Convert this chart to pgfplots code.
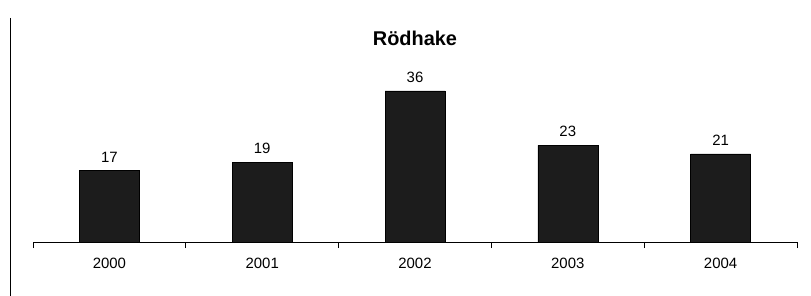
\documentclass[border=0pt]{standalone}
\usepackage{pgfplots}
\pgfplotsset{compat=1.18}
\usepackage{fontspec}
\setmainfont{Liberation Sans}
\definecolor{barc}{HTML}{1C1C1C}
\begin{document}
\begin{tikzpicture}
\useasboundingbox (-33bp,-54bp) rectangle (778bp,242bp);
\begin{axis}[
  at={(0,0)}, anchor=south west,
  scale only axis,
  width=764bp, height=168bp,
  xmin=-0.5, xmax=4.5, ymin=0, ymax=40,
  axis x line*=bottom, axis y line=none,
  x axis line style={line width=1pt,-},
  xtick={0,1,2,3,4},
  xticklabels={2000,2001,2002,2003,2004},
  major tick length=0pt,
  extra x ticks={-0.5,0.5,1.5,2.5,3.5,4.5},
  extra x tick labels={},
  extra x tick style={major tick length=6bp, tick align=outside, tick style={line width=0.8pt,black}},
  xticklabel style={font=\fontsize{15}{15}\selectfont, yshift=-13bp},
  /pgf/number format/assume math mode=true,
  ybar, bar width=60bp,
  nodes near coords,
  nodes near coords style={font=\fontsize{15}{15}\selectfont, yshift=5bp},
  title={\textbf{Rödhake}},
  title style={font=\fontsize{20}{20}\selectfont, at={(0.5,1)}, anchor=south, yshift=19bp},
  clip=false,
]
\addplot[fill=barc, draw=black] coordinates {(0,17) (1,19) (2,36) (3,23) (4,21)};
\end{axis}
\draw[line width=1pt] (-23bp,224bp) -- (-23bp,-54bp);
\end{tikzpicture}
\end{document}
